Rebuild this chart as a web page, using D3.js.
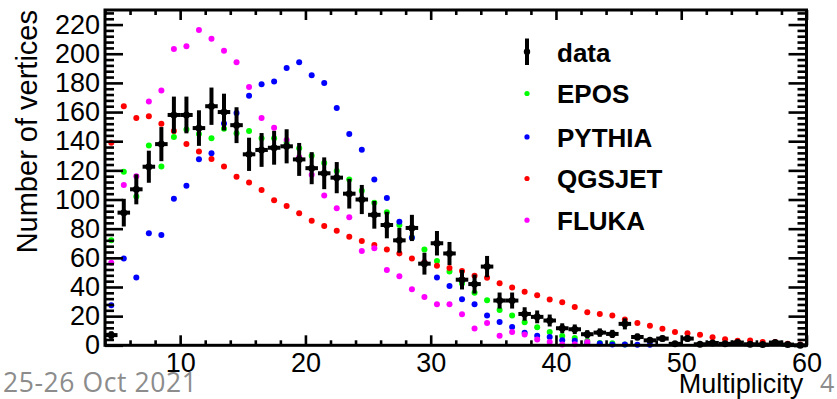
<!DOCTYPE html>
<html>
<head>
<meta charset="utf-8">
<script src="https://cdn.jsdelivr.net/npm/d3@7"></script>
<style>
  html, body { margin: 0; padding: 0; background: #ffffff; }
  svg { display: block; }
</style>
</head>
<body>
<svg id="chart" width="837" height="399"></svg>
<script>
// Lower edge of each multiplicity bin (bin width 1)
const bins = [4, 5, 6, 7, 8, 9, 10, 11, 12, 13, 14, 15, 16, 17, 18, 19, 20, 21, 22, 23,
              24, 25, 26, 27, 28, 29, 30, 31, 32, 33, 34, 35, 36, 37, 38, 39, 40, 41, 42, 43,
              44, 45, 46, 47, 48, 49, 50, 51, 52, 53, 54, 55, 56, 57, 58, 59];

// Measured vertex counts and their statistical errors
const dataCounts = [7, 91, 107, 122.5, 138, 158, 158, 149, 164, 160, 151, 131, 134, 135.5, 136.5, 127.5, 121.5, 118, 115, 104,
                    100, 89.5, 82.5, 72, 80.5, 56, 70, 63, 45, 42, 54, 30.7, 30.7, 21.5, 19.5, 17, 11.7, 11, 7.6, 8.7,
                    7.8, 14.7, 5.7, 3.4, 4.6, 1, 4.6, 0.7, 1.6, 1, 1.9, 0.7, 0.5, 1.9, 0.5, 0];
const dataErrors = [2.6, 9.5, 10.3, 11, 11.7, 12.6, 12.6, 12.2, 12.8, 12.6, 12.3, 11.4, 11.6, 11.6, 11.7, 11.3, 11, 10.9, 10.7, 10.2,
                    10, 9.5, 9.1, 8.5, 9, 7.5, 8.4, 7.9, 6.7, 6.5, 7.3, 5.5, 5.5, 4.6, 4.4, 4.1, 3.4, 3.3, 2.8, 2.9,
                    2.8, 3.8, 2.4, 1.8, 2.1, 1, 2.1, 0.8, 1.3, 1, 1.4, 0.8, 0.7, 1.4, 0.7, 0];

// Generator predictions (null = no entry drawn)
const eposCounts = [72, 119, 102, 137, 122.6, 142.8, 148, 145, 142, 148.5, 145.5, 147, 142, 142, 139, 135.2, 130, 125, 119.6, 113.7,
                    106, 97.8, 91.2, 82.5, 74, 65.8, 57.8, 50.7, 42.4, 36, 30.9, 24.2, 20.4, 15.8, 12.4, 9.2, 6.3, 5, 3, 1.5,
                    1.4, 0.5, null, null, null, null, null, null, null, null, null, null, null, null, null, null];
const pythiaCounts = [27.5, 59.6, 46.5, 76.8, 75.6, 100.6, 109.5, 127.7, 131.8, 152.2, 159.3, 171.2, 179, 181, 190.2, 194.1, 185.2, 179.9, 162.7, 144.9,
                      134.1, 113.7, 101, 84.8, 73.8, 57, 46.5, 40.6, 31.6, 28.2, 20.4, 16, 12.6, 8.6, 6.5, 5.7, 3.4, 3.2, 1.6, 1.3,
                      0.6, 0.5, 0.4, 0.3, null, null, null, null, null, null, null, null, null, null, null, null];
const qgsjetCounts = [139, 164, 156, 157.2, 152, 147, 138, 132.9, 127.8, 122.6, 115.7, 111.6, 106.6, 99.5, 95.6, 90.5, 85.5, 81.8, 78.6, 74.5,
                      71.5, 68.8, 65.8, 63, 59.6, 57, 54.5, 53, 51, 47.7, 46.4, 42.6, 39.6, 36.7, 34.4, 31.5, 29.5, 26.3, 22.6, 21.5,
                      20.4, 17.7, 15.3, 13.4, 11.3, 9.2, 8.2, 7.3, 5.5, 4.1, 3.2, 3.3, 2.3, 2.2, 1.1, 0.5];
const flukaCounts = [56.7, 110, 116, 167.3, 174.8, 203.3, 205.1, 216.3, 210.2, 202.1, 194.2, 177.2, 155.9, 149.2, 140.9, 129, 117, 102.8, 94, 87.8,
                     64.6, 66.5, 51.6, 47.4, 38.5, 33.2, 28.2, 28.2, 21.3, 11.5, 15.3, 6.6, 9.2, 7.4, 4, 2.3, 0.5, 0.8, 2.3, null,
                     null, null, null, null, null, null, null, null, null, null, null, null, null, null, null, null];

const modelNames = ["EPOS", "PYTHIA", "QGSJET", "FLUKA"];
const modelColors = ["#00ff00", "#0000ff", "#ff0000", "#ff00ff"];
const modelCounts = [eposCounts, pythiaCounts, qgsjetCounts, flukaCounts];

// Axis ticks
const xMajorTicks = [10, 20, 30, 40, 50, 60];
const xMinorTicks = [4, 6, 8, 12, 14, 16, 18, 22, 24, 26, 28, 32, 34, 36, 38, 42, 44, 46, 48, 52, 54, 56, 58];
const yMajorTicks = [0, 20, 40, 60, 80, 100, 120, 140, 160, 180, 200, 220];
const yMinorTicks = [4, 8, 12, 16, 24, 28, 32, 36, 44, 48, 52, 56, 64, 68, 72, 76, 84, 88, 92, 96,
                     104, 108, 112, 116, 124, 128, 132, 136, 144, 148, 152, 156, 164, 168, 172, 176,
                     184, 188, 192, 196, 204, 208, 212, 216, 224, 228];

const svg = d3.select("#chart");
const frame = { left: 105, right: 806.5, top: 10, bottom: 345.3 };
const axisFont = "'Liberation Sans', Arial, Helvetica, sans-serif";

const x = d3.scaleLinear().domain([4, 60]).range([frame.left, frame.right]);
const y = d3.scaleLinear().domain([0, 230]).range([frame.bottom, frame.top]);

svg.append("rect").attr("width", 837).attr("height", 399).attr("fill", "#ffffff");

// Model points
const plot = svg.append("g");
modelCounts.forEach((vals, k) => {
  plot.append("g")
    .selectAll("circle")
    .data(bins.map((b, i) => ({ b, v: vals[i] })).filter(d => d.v !== null))
    .join("circle")
    .attr("cx", d => x(d.b + 0.5))
    .attr("cy", d => y(d.v))
    .attr("r", 3)
    .attr("fill", modelColors[k]);
});

// Data points with error bars
const dataPts = bins.map((b, i) => ({ b, v: dataCounts[i], e: dataErrors[i] }));
const dataG = plot.append("g");
dataG.selectAll("line.ey").data(dataPts).join("line")
  .attr("class", "ey")
  .attr("x1", d => x(d.b + 0.5)).attr("x2", d => x(d.b + 0.5))
  .attr("y1", d => y(Math.max(0, d.v - d.e))).attr("y2", d => y(d.v + d.e))
  .attr("stroke", "#000").attr("stroke-width", 4);
dataG.selectAll("line.ex").data(dataPts).join("line")
  .attr("class", "ex")
  .attr("x1", d => x(d.b)).attr("x2", d => x(d.b + 1))
  .attr("y1", d => y(d.v)).attr("y2", d => y(d.v))
  .attr("stroke", "#000").attr("stroke-width", 4);
dataG.selectAll("circle").data(dataPts).join("circle")
  .attr("cx", d => x(d.b + 0.5)).attr("cy", d => y(d.v)).attr("r", 3.5)
  .attr("fill", "#000");

// Axes: ticks point into the frame on all four sides
function styleAxis(g) {
  g.select(".domain").remove();
  g.selectAll(".tick line").attr("stroke", "#000").attr("stroke-width", 2.6);
  g.selectAll("text").attr("font-family", axisFont).attr("font-size", 27).attr("fill", "#000");
}
svg.append("g").attr("transform", `translate(0,${frame.bottom})`)
  .call(d3.axisBottom(x).tickValues(xMajorTicks).tickSizeInner(-10).tickSizeOuter(0).tickPadding(7.5).tickFormat(d3.format("d")))
  .call(styleAxis);
svg.append("g").attr("transform", `translate(0,${frame.bottom})`)
  .call(d3.axisBottom(x).tickValues(xMinorTicks).tickSizeInner(-5).tickSizeOuter(0).tickFormat(""))
  .call(styleAxis);
svg.append("g").attr("transform", `translate(0,${frame.top})`)
  .call(d3.axisTop(x).tickValues(xMajorTicks).tickSizeInner(-10).tickSizeOuter(0).tickFormat(""))
  .call(styleAxis);
svg.append("g").attr("transform", `translate(0,${frame.top})`)
  .call(d3.axisTop(x).tickValues(xMinorTicks).tickSizeInner(-5).tickSizeOuter(0).tickFormat(""))
  .call(styleAxis);
svg.append("g").attr("transform", `translate(${frame.left},0)`)
  .call(d3.axisLeft(y).tickValues(yMajorTicks).tickSizeInner(-18).tickSizeOuter(0).tickPadding(5).tickFormat(d3.format("d")))
  .call(styleAxis);
svg.append("g").attr("transform", `translate(${frame.left},0)`)
  .call(d3.axisLeft(y).tickValues(yMinorTicks).tickSizeInner(-9).tickSizeOuter(0).tickFormat(""))
  .call(styleAxis);
svg.append("g").attr("transform", `translate(${frame.right},0)`)
  .call(d3.axisRight(y).tickValues(yMajorTicks).tickSizeInner(-18).tickSizeOuter(0).tickFormat(""))
  .call(styleAxis);
svg.append("g").attr("transform", `translate(${frame.right},0)`)
  .call(d3.axisRight(y).tickValues(yMinorTicks).tickSizeInner(-9).tickSizeOuter(0).tickFormat(""))
  .call(styleAxis);

// Frame
svg.append("rect")
  .attr("x", frame.left).attr("y", frame.top)
  .attr("width", frame.right - frame.left).attr("height", frame.bottom - frame.top)
  .attr("fill", "none").attr("stroke", "#000").attr("stroke-width", 3);

// Axis titles
svg.append("text")
  .attr("transform", `translate(36.5,${frame.top}) rotate(-90)`)
  .attr("text-anchor", "end")
  .attr("font-family", axisFont).attr("font-size", 29)
  .text("Number of vertices");
svg.append("text")
  .attr("x", 803.3).attr("y", 393)
  .attr("text-anchor", "end")
  .attr("font-family", axisFont).attr("font-size", 27)
  .text("Multiplicity");

// Legend
const legend = svg.append("g").attr("font-family", axisFont).attr("font-weight", "bold").attr("font-size", 26);
const legendX = 527, legendTextX = 557;
const legendBase = [61.7, 103.3, 146.7, 188.3, 230];
legend.append("line")
  .attr("x1", legendX).attr("x2", legendX).attr("y1", 38.5).attr("y2", 65)
  .attr("stroke", "#000").attr("stroke-width", 4);
legend.append("circle").attr("cx", legendX).attr("cy", 51.7).attr("r", 3.2).attr("fill", "#000");
legend.append("text").attr("x", legendTextX).attr("y", legendBase[0]).text("data");
modelNames.forEach((name, k) => {
  legend.append("circle")
    .attr("cx", legendX).attr("cy", legendBase[k + 1] - 9.8).attr("r", 2.6)
    .attr("fill", modelColors[k]);
  legend.append("text").attr("x", legendTextX).attr("y", legendBase[k + 1]).text(name);
});

// Slide footer
const footFont = "'Open Sans', Lato, sans-serif";
svg.append("text").attr("x", 3).attr("y", 391.5)
  .attr("font-family", footFont).attr("font-size", 26.5).attr("fill", "#8c8c8c")
  .attr("textLength", 194).attr("lengthAdjust", "spacing")
  .text("25-26 Oct 2021");
svg.append("text").attr("x", 820).attr("y", 391.5)
  .attr("font-family", footFont).attr("font-size", 25).attr("fill", "#8c8c8c")
  .text("4");
</script>
</body>
</html>
